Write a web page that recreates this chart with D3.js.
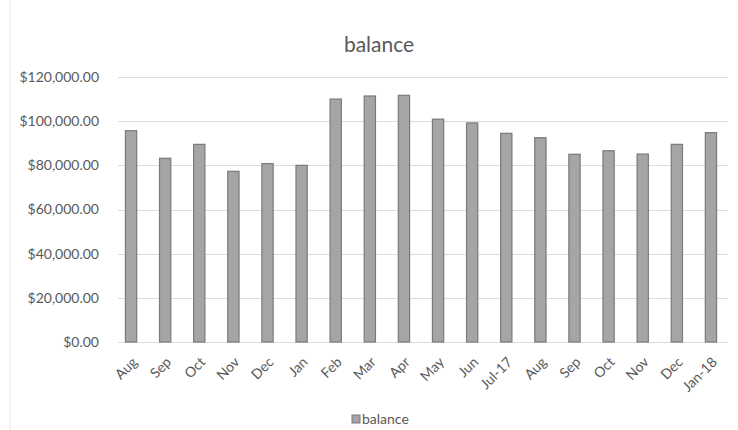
<!DOCTYPE html>
<html>
<head>
<meta charset="utf-8">
<script src="https://cdn.jsdelivr.net/npm/d3@7/dist/d3.min.js"></script>
<style>
  body { margin: 0; background: #fff; }
  svg { display: block; font-family: Lato, "Open Sans", sans-serif; }
</style>
</head>
<body>
<svg id="chart" width="738" height="430"></svg>
<script>
const categories = ["Aug","Sep","Oct","Nov","Dec","Jan","Feb","Mar","Apr","May","Jun","Jul-17","Aug","Sep","Oct","Nov","Dec","Jan-18"];
const balance = [95700, 83200, 89500, 77300, 80800, 80000, 110000, 111400, 111700, 100900, 99200, 94500, 92500, 85000, 86600, 85100, 89500, 94800];
const yTicks = [0, 20000, 40000, 60000, 80000, 100000, 120000];
const seriesName = "balance";

const FONT = "Lato, 'Open Sans', sans-serif";
const svg = d3.select("#chart");
const W = 738, H = 430;
const margin = { left: 114, right: 10, top: 77, bottom: 88 };
const plotW = W - margin.left - margin.right;
const plotH = H - margin.top - margin.bottom;

const x = d3.scaleBand().domain(d3.range(categories.length)).range([margin.left, margin.left + plotW]).paddingInner(0.67).paddingOuter(0.335);
const y = d3.scaleLinear().domain([0, 120000]).range([margin.top + plotH, margin.top]);

// left faint border
svg.append("line").attr("x1", 10).attr("x2", 10).attr("y1", 0).attr("y2", H)
  .attr("stroke", "#e6e6e6").attr("stroke-width", 1);

// gridlines
svg.append("g").selectAll("line").data(yTicks).join("line")
  .attr("x1", margin.left + 4).attr("x2", margin.left + plotW)
  .attr("y1", d => Math.round(y(d)) + 0.5).attr("y2", d => Math.round(y(d)) + 0.5)
  .attr("stroke", "#dcdcdc").attr("stroke-width", 1);

// y axis labels
const fmt = d => "$" + d3.format(",.2f")(d);
const yAxis = d3.axisLeft(y).tickValues(yTicks).tickFormat(fmt).tickSize(0).tickPadding(15);
const gy = svg.append("g").attr("transform", `translate(${margin.left},0)`).call(yAxis)
  .attr("font-family", FONT);
gy.select(".domain").remove();
gy.selectAll("text").attr("fill", "#595959").attr("font-size", 14);

// bars
svg.append("g").selectAll("rect").data(balance).join("rect")
  .attr("x", (d, i) => x(i))
  .attr("width", x.bandwidth())
  .attr("y", d => y(d))
  .attr("height", d => y(0) - y(d))
  .attr("fill", "#a5a5a5")
  .attr("stroke", "#7a7a7a")
  .attr("stroke-width", 1.2);

// x axis labels
const xAxis = d3.axisBottom(x).tickFormat(i => categories[i]).tickSize(0).tickPadding(0);
const gx = svg.append("g").attr("transform", `translate(0,${y(0)})`).call(xAxis)
  .attr("font-family", FONT);
gx.select(".domain").remove();
gx.selectAll("text")
  .attr("fill", "#595959").attr("font-size", 14)
  .attr("text-anchor", "end")
  .attr("dy", null)
  .attr("transform", "translate(7,21) rotate(-45)");

// title
svg.append("text").attr("x", 379).attr("y", 52).attr("text-anchor", "middle")
  .attr("font-size", 21).attr("fill", "#595959").text(seriesName);

// legend
const lg = svg.append("g").attr("transform", "translate(356,419)");
lg.append("rect").attr("x", -4).attr("y", -4).attr("width", 8).attr("height", 8).attr("fill", "#a5a5a5").attr("stroke", "#7a7a7a");
lg.append("text").attr("x", 6).attr("y", 5).attr("font-size", 14).attr("fill", "#595959").text(seriesName);
</script>
</body>
</html>
